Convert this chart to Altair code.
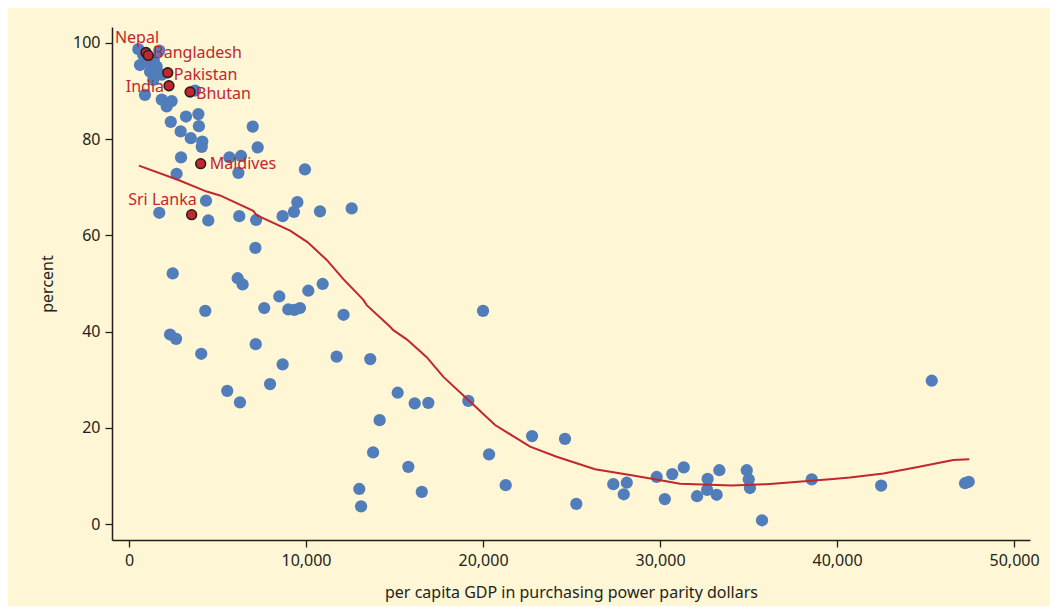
import altair as alt
import pandas as pd

# Other countries: per capita GDP (PPP dollars) and percent
gdp = [530, 1710, 620, 1090, 1560, 1190, 900, 1370, 1850, 2130, 2360, 3220, 3920, 3950,
       2920, 3490, 4140, 4110, 6990, 7270, 2940, 5670, 6330, 6180, 9940, 2690, 3730,
       1850, 1470, 2410, 800, 1400,
       4350, 1710, 4480, 6230, 7180, 8680, 9320, 9510, 10790, 12580, 7140, 2470, 6140,
       6420, 8490, 10130, 10940, 4310, 7640, 9000, 9340, 9660, 12120, 20000, 2320, 2660,
       7160, 4080, 8680, 11730, 13630, 7970, 5550, 6270, 15180, 16140, 16910, 19170,
       14160, 13790, 15780, 13010, 13110, 16540, 20340, 21280, 22770, 24630, 25270,
       27360, 28120, 27950, 29810, 30270, 30690, 31340, 32690, 32660, 32090, 33200,
       33350, 34900, 35010, 35080, 35760, 38570, 42490, 45350, 47230, 47440]
pct = [98.7, 98.4, 95.4, 95.8, 95.1, 94.0, 89.2, 92.3, 88.2, 86.8, 83.6, 84.7, 85.2, 82.7,
       81.6, 80.2, 79.5, 78.4, 82.6, 78.3, 76.2, 76.2, 76.5, 73.0, 73.7, 72.8, 90.1,
       93.4, 94.1, 87.9, 97.5, 96.5,
       67.2, 64.7, 63.1, 64.0, 63.2, 64.0, 64.9, 66.9, 65.0, 65.6, 57.4, 52.1, 51.1,
       49.8, 47.3, 48.5, 49.9, 44.3, 44.9, 44.6, 44.5, 44.9, 43.5, 44.3, 39.4, 38.5,
       37.4, 35.4, 33.2, 34.8, 34.3, 29.1, 27.7, 25.3, 27.3, 25.1, 25.2, 25.6,
       21.6, 14.9, 11.9, 7.3, 3.7, 6.7, 14.5, 8.1, 18.3, 17.7, 4.2,
       8.3, 8.6, 6.2, 9.8, 5.2, 10.4, 11.8, 9.4, 7.1, 5.8, 6.1,
       11.2, 11.2, 9.3, 7.5, 0.8, 9.3, 8.0, 29.8, 8.5, 8.8]

# South Asian countries (highlighted)
sa_names = ["Nepal", "Bangladesh", "Pakistan", "India", "Bhutan", "Maldives", "Sri Lanka"]
sa_gdp = [960, 1090, 2190, 2260, 3450, 4050, 3540]
sa_pct = [98.0, 97.4, 93.8, 91.1, 89.8, 74.9, 64.3]

# Smoothed trend line
fit_gdp = [560, 2790, 4390, 5140, 7020, 7210, 9100, 10080, 11170, 12110, 13240, 13430,
           14750, 14930, 15690, 16820, 17760, 19170, 20680, 22660, 24160, 26330, 28310,
           30190, 31130, 34050, 36030, 39790, 40730, 42620, 44500, 46570, 47470]
fit_pct = [74.5, 71.5, 69.1, 68.3, 65.1, 64.2, 61.0, 58.6, 54.9, 50.9, 46.6, 45.5,
           41.0, 40.3, 38.4, 34.7, 30.6, 25.8, 20.6, 16.1, 14.0, 11.4, 10.2,
           9.0, 8.4, 8.0, 8.3, 9.4, 9.7, 10.5, 11.8, 13.3, 13.5]

others = pd.DataFrame({"gdp": gdp, "pct": pct})
sa = pd.DataFrame({"name": sa_names, "gdp": sa_gdp, "pct": sa_pct})
fit = pd.DataFrame({"gdp": fit_gdp, "pct": fit_pct})

RED = "#c1272d"
BLUE = "#527dbb"
DARK = "#231f20"
FONT = "Noto Sans"

xscale = alt.Scale(domain=[-960, 50900], nice=False, zero=False)
yscale = alt.Scale(domain=[-3.3, 103.3], nice=False, zero=False)

xenc = alt.X("gdp:Q", scale=xscale,
             axis=alt.Axis(title="per capita GDP in purchasing power parity dollars",
                           values=[0, 10000, 20000, 30000, 40000, 50000], format=",.0f",
                           grid=False, tickSize=7, labelPadding=5, titlePadding=16))
yenc = alt.Y("pct:Q", scale=yscale,
             axis=alt.Axis(title="percent", values=[0, 20, 40, 60, 80, 100], format=".0f",
                           grid=False, tickSize=7, labelPadding=5, titlePadding=17))

pts = alt.Chart(others).mark_circle(size=150, color=BLUE, opacity=1)

line = alt.Chart(fit).mark_line(color=RED, strokeWidth=2)

red_pts = alt.Chart(sa).mark_point(shape="circle", filled=True, size=95, fill=RED,
                                   stroke=DARK, strokeWidth=1.6, opacity=1)

def labels(names, **kw):
    return alt.Chart(sa).transform_filter(
        alt.FieldOneOfPredicate(field="name", oneOf=names)
    ).mark_text(font=FONT, fontSize=16, color=RED, **kw).encode(text="name:N")

lab_bang = labels(["Bangladesh"], align="left", baseline="middle", dx=5, dy=-2)
lab_pak = labels(["Pakistan"], align="left", baseline="middle", dx=6, dy=2)
lab_bhutan = labels(["Bhutan"], align="left", baseline="middle", dx=6, dy=2)
lab_maldives = labels(["Maldives"], align="left", baseline="middle", dx=9, dy=0)
lab_india = labels(["India"], align="right", baseline="middle", dx=-5, dy=1)
lab_nepal = labels(["Nepal"], align="center", baseline="bottom", dx=-9, dy=-7)
lab_sl = labels(["Sri Lanka"], align="right", baseline="bottom", dx=5, dy=-7)

chart = alt.layer(pts, line, red_pts, lab_bang, lab_pak, lab_bhutan, lab_maldives, lab_india,
                  lab_nepal, lab_sl).encode(
    x=xenc, y=yenc
).properties(
    width=918, height=513,
    background="#fef6d4",
    padding={"left": 104, "top": 19, "right": 20, "bottom": 66},
    autosize=alt.AutoSizeParams(type="none"),
).configure_view(stroke=None).configure_axis(
    domainColor=DARK, domainWidth=1.5, tickColor=DARK, tickWidth=1.3,
    labelFont=FONT, labelFontSize=16, labelColor=DARK,
    titleFont=FONT, titleFontSize=16, titleColor=DARK, titleFontWeight="normal",
)

chart.save("out.html", embed_options={"renderer": "svg", "actions": False})
